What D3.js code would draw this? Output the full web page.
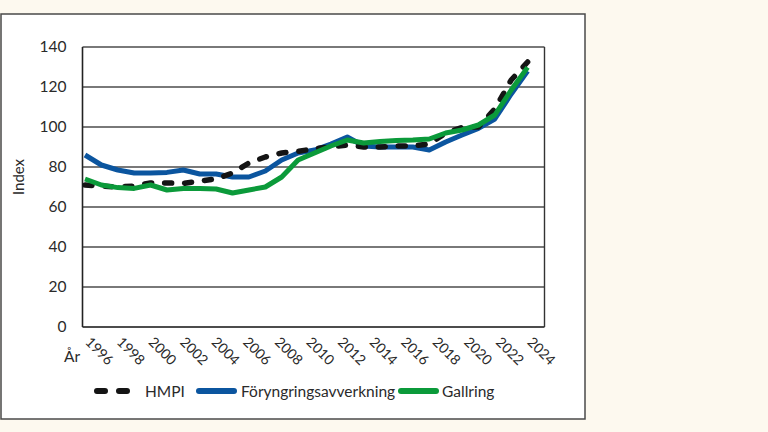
<!DOCTYPE html>
<html><head><meta charset="utf-8">
<script src="https://cdn.jsdelivr.net/npm/d3@7"></script>
<style>
html,body{margin:0;padding:0;background:#fdf9ef;}
svg{display:block;font-family:Lato,"Open Sans",sans-serif;}
</style></head>
<body>
<svg id="c" width="768" height="432"></svg>
<script>
const years = [1996,1997,1998,1999,2000,2001,2002,2003,2004,2005,2006,2007,2008,2009,2010,2011,2012,2013,2014,2015,2016,2017,2018,2019,2020,2021,2022,2023];
const hmpi = [71,70.5,70,70.5,72,72,71.8,73,74,77,82,85,87,87.8,89.2,90,91,90,90,90.5,90.5,91.5,97,99.8,100,109,123.5,132.5];
const foryngring = [86,81,78.5,77,77,77.3,78.5,76.5,76.5,75,75,78,83.5,87,88.5,91.5,95,90.5,90,90,90,88.5,92.5,96,99.3,104,116.5,128];
const gallring = [74,71,69.7,69.3,71,68.5,69.3,69.3,69,67,68.5,70,75,83.5,87,90.5,93.5,92,92.7,93.2,93.5,94,97,98.5,101,106,118.5,129.8];
const yTicks = [0,20,40,60,80,100,120,140];
const xLabels = ["1996","1998","2000","2002","2004","2006","2008","2010","2012","2014","2016","2018","2020","2022","2024"];
const seriesNames = ["HMPI","Föryngringsavverkning","Gallring"];
const colors = {HMPI:"#141414","Föryngringsavverkning":"#0b559f","Gallring":"#0b9a3a"};

const svg = d3.select("#c");
// panel
svg.append("rect").attr("x",1).attr("y",14).attr("width",584).attr("height",405)
  .attr("fill","#ffffff").attr("stroke","#4a4a4a").attr("stroke-width",1.5);

const L=82.5, R=544.5, T=47, B=327;
const x = d3.scaleLinear().domain([1996,2024]).range([85,544]);
const y = d3.scaleLinear().domain([0,140]).range([B,T]);
const xl = d3.scalePoint().domain(xLabels).range([85,527]);

// grid
const g = svg.append("g");
g.selectAll("line.grid").data(yTicks).join("line")
  .attr("x1",L).attr("x2",R).attr("y1",d=>y(d)).attr("y2",d=>y(d))
  .attr("stroke",d=>d===0?"#111":"#4d4d4d").attr("stroke-width",d=>d===0?1.6:1.4);
g.append("line").attr("x1",L).attr("x2",L).attr("y1",T).attr("y2",B).attr("stroke","#222").attr("stroke-width",1.6);
g.append("line").attr("x1",R).attr("x2",R).attr("y1",T).attr("y2",B).attr("stroke","#333").attr("stroke-width",1.4);

// y axis labels
const ya = svg.append("g").attr("transform",`translate(${L},0)`)
  .call(d3.axisLeft(y).tickValues(yTicks).tickSize(0).tickPadding(16).tickFormat(d3.format("d")));
ya.select(".domain").remove();
ya.selectAll("text").attr("font-size",15.5).attr("fill","#2a2a2a").attr("font-family","Lato,sans-serif");

// y title
svg.append("text").attr("transform","translate(24,177) rotate(-90)")
  .attr("text-anchor","middle").attr("font-size",15).attr("fill","#2a2a2a").text("Index");

// x labels
const xa = svg.append("g").attr("transform",`translate(0,${B})`)
  .call(d3.axisBottom(xl).tickSize(0).tickPadding(0));
xa.select(".domain").remove();
xa.selectAll("text").attr("font-size",14).attr("fill","#2a2a2a").attr("font-family","Lato,sans-serif")
  .attr("text-anchor","start").attr("dy",0).attr("y",0)
  .attr("transform","translate(-1,16) rotate(45)");
svg.append("text").attr("x",64).attr("y",362).attr("font-size",15.5).attr("fill","#2a2a2a").text("År");

// lines
const data = {HMPI:hmpi,"Föryngringsavverkning":foryngring,"Gallring":gallring};
const line = d3.line().x((d,i)=>x(years[i])).y(d=>y(d));
const order = ["Föryngringsavverkning","HMPI","Gallring"];
order.forEach(n=>{
  const p = svg.append("path").datum(data[n]).attr("d",line).attr("fill","none")
    .attr("stroke",colors[n]).attr("stroke-width",5).attr("stroke-linejoin","round");
  if(n==="HMPI") p.attr("stroke-dasharray","7,13").attr("stroke-linecap","round").attr("stroke-width",5.5);
  else p.attr("stroke-linecap","butt");
});

// legend
const legend = [
  {n:"HMPI", x1:97, x2:127, tx:145},
  {n:"Föryngringsavverkning", x1:199, x2:234, tx:241},
  {n:"Gallring", x1:401, x2:436, tx:442}
];
const ly = 391;
legend.forEach(l=>{
  const ln = svg.append("line").attr("x1",l.x1).attr("x2",l.x2).attr("y1",ly).attr("y2",ly)
    .attr("stroke",colors[l.n]).attr("stroke-width",6).attr("stroke-linecap","round");
  if(l.n==="HMPI") ln.attr("stroke-dasharray","8,14");
  svg.append("text").attr("x",l.tx).attr("y",ly+5.5).attr("font-size",15.5).attr("fill","#2a2a2a").text(l.n);
});
</script>
</body></html>
